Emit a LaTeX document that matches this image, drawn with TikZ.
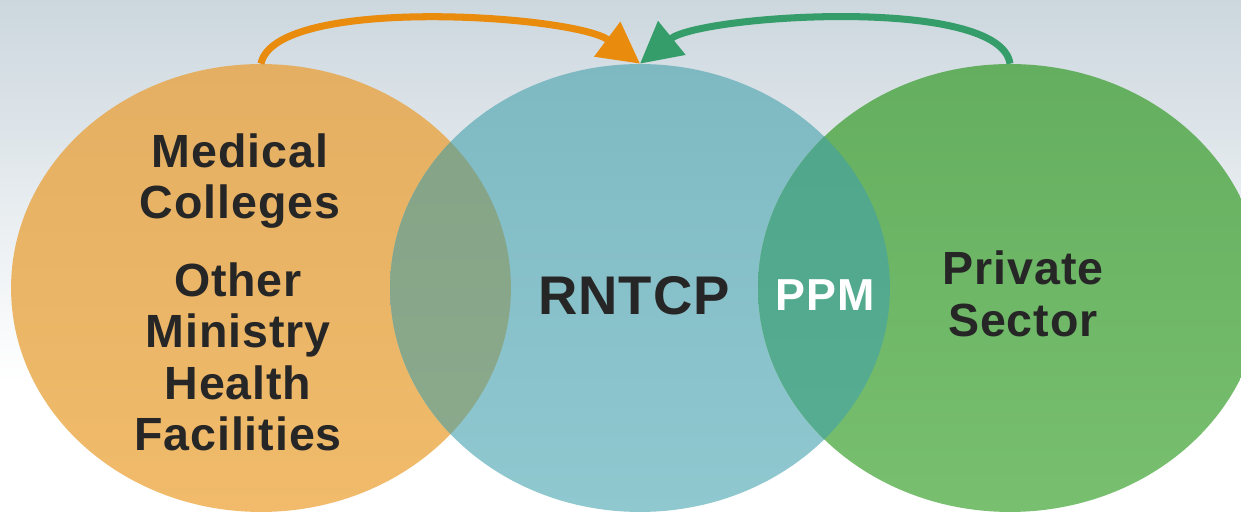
\documentclass[tikz,border=0pt]{standalone}
\usepackage{fontspec}
\setmainfont{Liberation Sans}
\newfontfamily\labfont[LetterSpace=2]{Liberation Sans}
\usetikzlibrary{shapes.geometric,arrows.meta}
\definecolor{bgtop}{HTML}{CCD7DE}
\definecolor{orgtop}{HTML}{E4AF62}
\definecolor{orgbot}{HTML}{F1BB6B}
\definecolor{blutop}{HTML}{7EB9C2}
\definecolor{blubot}{HTML}{90C8D0}
\definecolor{grntop}{HTML}{64AE5F}
\definecolor{grnbot}{HTML}{78C06F}
\definecolor{obtop}{HTML}{84A386}
\definecolor{obbot}{HTML}{8CAB8D}
\definecolor{bgtopov}{HTML}{4FA58A}
\definecolor{bgbotov}{HTML}{58AE92}
\definecolor{arrorg}{HTML}{E98B0C}
\definecolor{arrgrn}{HTML}{359D69}
\definecolor{txt}{HTML}{262626}
\tikzset{
  blob/.style={ellipse, inner sep=0pt, minimum width=10cm, minimum height=8.96cm, draw=none},
  lab/.style={align=center, text=txt, font=\labfont\bfseries\fontsize{26.5}{29.2}\selectfont, inner sep=0pt},
  conn/.style={line width=4pt, -{Triangle[length=0.82cm,width=0.84cm]}}
}
\begin{document}
\begin{tikzpicture}[x=0.02cm,y=0.02cm]
\useasboundingbox (0,0) rectangle (1241,513);
\clip (0,0) rectangle (1241,513);
\fill[white] (0,0) rectangle (1241,513);
\shade[top color=bgtop, bottom color=white] (0,130) rectangle (1241,513);
% circles
\node[blob, shade, top color=orgtop, bottom color=orgbot] (o) at (261,225) {};
\node[blob, shade, top color=blutop, bottom color=blubot] (b) at (640,225) {};
\node[blob, minimum width=10.08cm, shade, top color=grntop, bottom color=grnbot] (g) at (1010,225) {};
% overlaps
\begin{scope}
  \clip (o.center) ellipse [x radius=5cm, y radius=4.48cm];
  \shade[top color=obtop, bottom color=obbot] (b.center) ellipse [x radius=5cm, y radius=4.48cm];
\end{scope}
\begin{scope}
  \clip (g.center) ellipse [x radius=5.04cm, y radius=4.48cm];
  \shade[top color=bgtopov, bottom color=bgbotov] (b.center) ellipse [x radius=5cm, y radius=4.48cm];
\end{scope}
% arrows
\draw[conn, arrorg] (o.north) .. controls (275,518) and (575,498) .. (b.north);
\draw[conn, arrgrn] (g.north) .. controls (1000,518) and (700,498) .. (b.north);
% labels
\node[lab] (mc) at (240,332) {Medical\\Colleges};
\node[lab] (om) at (238,156) {Other\\Ministry\\Health\\Facilities};
\node[lab, font=\labfont\bfseries\fontsize{31}{34}\selectfont] (rn) at (634,217) {RNTCP};
\node[lab, text=white, font=\labfont\bfseries\fontsize{25.5}{29}\selectfont] (pp) at (825,218) {PPM};
\node[lab] (ps) at (1023,219) {Private\\Sector};
\end{tikzpicture}
\end{document}
